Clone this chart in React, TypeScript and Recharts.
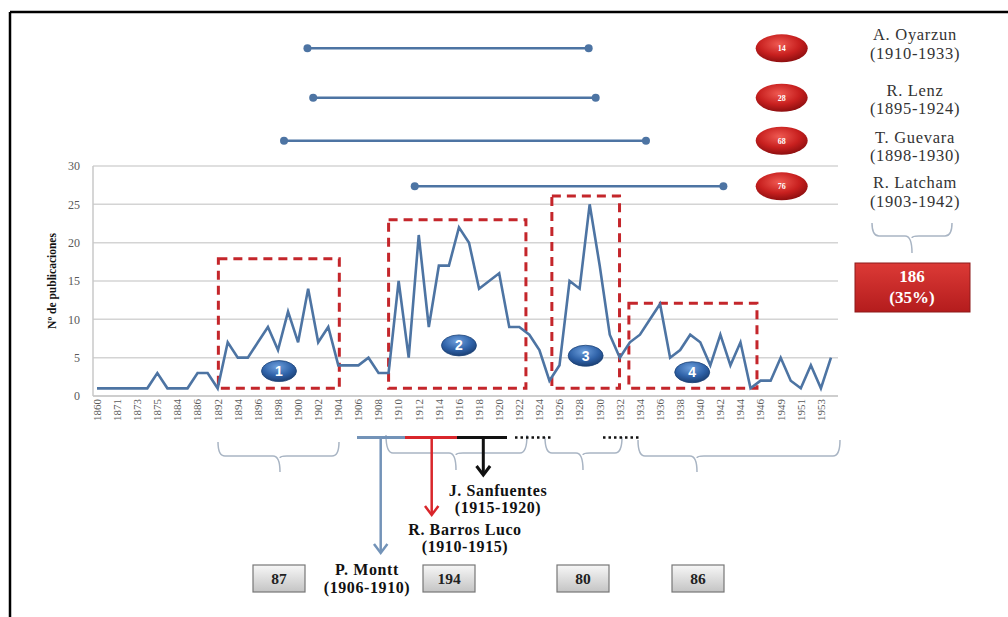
import React from 'react'
import {
    LineChart,
    Line,
    XAxis,
    YAxis,
    CartesianGrid,
    ReferenceArea,
    ReferenceLine,
    ReferenceDot,
} from 'recharts'

// categories: one per point on the axis; only every other one is labelled
const years = [
    '1860', '1870', '1871', '1872', '1873', '1874', '1875', '1880', '1884', '1885', '1886', '1890',
    '1892', '1893', '1894', '1895', '1896', '1897', '1898', '1899', '1900', '1901', '1902', '1903',
    '1904', '1905', '1906', '1907', '1908', '1909', '1910', '1911', '1912', '1913', '1914', '1915',
    '1916', '1917', '1918', '1919', '1920', '1921', '1922', '1923', '1924', '1925', '1926', '1927',
    '1928', '1929', '1930', '1931', '1932', '1933', '1934', '1935', '1936', '1937', '1938', '1939',
    '1940', '1941', '1942', '1943', '1944', '1945', '1946', '1948', '1949', '1950', '1951', '1952',
    '1953', '1954',
]

const publications = [
    1, 1, 1, 1, 1, 1, 3, 1, 1, 1, 3, 3,
    1, 7, 5, 5, 7, 9, 6, 11, 7, 14, 7, 9,
    4, 4, 4, 5, 3, 3, 15, 5, 21, 9, 17, 17,
    22, 20, 14, 15, 16, 9, 9, 8, 6, 2, 4, 15,
    14, 25, 17, 8, 5, 7, 8, 10, 12, 5, 6, 8,
    7, 4, 8, 4, 7, 1, 2, 2, 5, 2, 1, 4,
    1, 5,
]

const yTicks = [0, 5, 10, 15, 20, 25, 30]

// dashed period boxes (axis index / value units)
const periodFrom = [12.07, 29.0, 45.24, 52.9]
const periodTo = [24.1, 42.66, 51.97, 65.64]
const periodTop = [17.9, 23.0, 26.1, 12.1]
const badgeAt = [18.1, 36.0, 48.6, 59.2]
const badgeValue = [3.25, 6.6, 5.25, 3.1]

// authors shown above the plot
const authors = ['A. Oyarzun', 'R. Lenz', 'T. Guevara', 'R. Latcham']
const authorSpans = ['(1910-1933)', '(1895-1924)', '(1898-1930)', '(1903-1942)']
const authorCounts = [14, 28, 68, 76]
const authorStart = [20.93, 21.5, 18.6, 31.6]
const authorEnd = [48.9, 49.6, 54.6, 62.3]
const authorRow = [45.35, 38.9, 33.3, 27.35]

const periodTotals = ['87', '194', '80', '86']

const data = years.map((year, i) => ({ i, year, value: publications[i] }))
const xTicks = years.map((_, i) => i).filter(i => i % 2 === 0)

const SERIF = '"Liberation Serif", "Times New Roman", serif'
const LINE_BLUE = '#4d74a3'
const BOX_RED = '#c4262b'

const YearTick = ({ x, y, payload }: any) => (
    <text
        x={x}
        y={y}
        transform={`rotate(-90 ${x} ${y})`}
        textAnchor="end"
        dy="0.35em"
        fontSize={11}
        fontFamily={SERIF}
        fill="#595959"
    >
        {years[payload.value]}
    </text>
)

const Badge = ({ cx, cy, n }: any) => (
    <g>
        <ellipse cx={cx} cy={cy} rx={17.5} ry={10.5} fill="url(#badgeBlue)" stroke="#1d4479" strokeWidth={0.8} />
        <text x={cx} y={cy} dy="0.36em" textAnchor="middle" fontSize={14} fontWeight="bold" fontFamily="Arial, sans-serif" fill="#fff">
            {n}
        </text>
    </g>
)

const RedBall = ({ cx, cy, n }: any) => (
    <g>
        <ellipse cx={cx} cy={cy} rx={26} ry={14} fill="url(#redBall)" />
        <text x={cx} y={cy} dy="0.35em" textAnchor="middle" fontSize={8} fontWeight="bold" fontFamily={SERIF} fill="#fff">
            {n}
        </text>
    </g>
)

function brace(x1: number, x2: number, xm: number, top: number, mid: number, tip: number) {
    return `M${x1} ${top} Q${x1} ${mid} ${x1 + 7} ${mid} L${xm - 7} ${mid} Q${xm} ${mid} ${xm} ${tip}` +
        ` M${xm} ${mid + 2} Q${xm} ${mid} ${xm + 7} ${mid} L${x2 - 7} ${mid} Q${x2} ${mid} ${x2} ${top}`
}

const braces = [
    [218, 339, 280, 442, 456, 472],
    [386, 527, 456, 435, 453, 470],
    [545, 622, 583, 437, 453, 470],
    [638, 840, 697, 440, 456, 472],
]

const totalBoxes = [253, 423, 557, 672]

export default function App() {
    return (
        <div style={{ position: 'absolute', left: 0, top: 0, width: 1008, height: 617, background: '#fff' }}>
            <LineChart
                width={1008}
                height={617}
                data={data}
                margin={{ top: 166, right: 170, bottom: 181, left: 33 }}
            >
                <CartesianGrid vertical={false} stroke="#d4d4d4" strokeWidth={1.5} />
                <XAxis
                    dataKey="i"
                    type="number"
                    domain={[-0.4, 73.7]}
                    ticks={xTicks}
                    interval={0}
                    tick={<YearTick />}
                    tickLine={false}
                    tickSize={3}
                    tickMargin={0}
                    height={40}
                    axisLine={{ stroke: '#c8c8c8', strokeWidth: 1.5 }}
                />
                <YAxis
                    domain={[0, 30]}
                    ticks={yTicks}
                    width={60}
                    tickLine={false}
                    tickMargin={7}
                    axisLine={{ stroke: '#c8c8c8', strokeWidth: 1.5 }}
                    tick={{ fontSize: 12, fontFamily: SERIF, fill: '#595959' }}
                />
                {periodFrom.map((from, k) => (
                    <ReferenceArea
                        key={'box' + k}
                        x1={from}
                        x2={periodTo[k]}
                        y1={1}
                        y2={periodTop[k]}
                        fill="none"
                        fillOpacity={0}
                        stroke={BOX_RED}
                        strokeWidth={3}
                        strokeDasharray="9 6"
                        ifOverflow="visible"
                    />
                ))}
                <Line
                    type="linear"
                    dataKey="value"
                    stroke={LINE_BLUE}
                    strokeWidth={2.6}
                    dot={false}
                    isAnimationActive={false}
                />
                {badgeAt.map((x, k) => (
                    <ReferenceDot
                        key={'badge' + k}
                        x={x}
                        y={badgeValue[k]}
                        ifOverflow="visible"
                        shape={(p: any) => <Badge cx={p.cx} cy={p.cy} n={k + 1} />}
                    />
                ))}
                {authorRow.map((row, k) => (
                    <ReferenceLine
                        key={'span' + k}
                        segment={[{ x: authorStart[k], y: row }, { x: authorEnd[k], y: row }]}
                        stroke={LINE_BLUE}
                        strokeWidth={2.5}
                        ifOverflow="visible"
                    />
                ))}
                {authorRow.map((row, k) => (
                    <ReferenceDot key={'s' + k} x={authorStart[k]} y={row} r={4} fill={LINE_BLUE} stroke="none" ifOverflow="visible" />
                ))}
                {authorRow.map((row, k) => (
                    <ReferenceDot key={'e' + k} x={authorEnd[k]} y={row} r={4} fill={LINE_BLUE} stroke="none" ifOverflow="visible" />
                ))}
                {authorRow.map((row, k) => (
                    <ReferenceDot
                        key={'ball' + k}
                        x={68.1}
                        y={row}
                        ifOverflow="visible"
                        shape={(p: any) => <RedBall cx={p.cx} cy={p.cy} n={authorCounts[k]} />}
                    />
                ))}
            </LineChart>

            <svg width={1008} height={617} style={{ position: 'absolute', left: 0, top: 0, pointerEvents: 'none' }}>
                <defs>
                    <radialGradient id="redBall" cx="45%" cy="35%" r="65%">
                        <stop offset="0%" stopColor="#ef5a52" />
                        <stop offset="60%" stopColor="#c8201f" />
                        <stop offset="100%" stopColor="#8e0f10" />
                    </radialGradient>
                    <radialGradient id="badgeBlue" cx="45%" cy="30%" r="70%">
                        <stop offset="0%" stopColor="#6d9fdc" />
                        <stop offset="60%" stopColor="#2f62a8" />
                        <stop offset="100%" stopColor="#1b3f73" />
                    </radialGradient>
                    <linearGradient id="greyBox" x1="0" y1="0" x2="0" y2="1">
                        <stop offset="0%" stopColor="#f7f7f7" />
                        <stop offset="100%" stopColor="#c4c4c4" />
                    </linearGradient>
                    <linearGradient id="redBox" x1="0" y1="0" x2="0" y2="1">
                        <stop offset="0%" stopColor="#dc3a36" />
                        <stop offset="100%" stopColor="#b41c1d" />
                    </linearGradient>
                </defs>

                <line x1={10} y1={12} x2={1008} y2={12} stroke="#000" strokeWidth={2.5} />
                <line x1={10} y1={12} x2={10} y2={617} stroke="#000" strokeWidth={2.5} />

                <text
                    transform="translate(52 281) rotate(-90)"
                    textAnchor="middle"
                    dy="0.35em"
                    fontSize={11.5}
                    fontWeight="bold"
                    fontFamily={SERIF}
                    fill="#111"
                >
                    Nº de publicaciones
                </text>

                {braces.map((b, k) => (
                    <path key={k} d={brace(b[0], b[1], b[2], b[3], b[4], b[5])} fill="none" stroke="#a9b5c4" strokeWidth={1.5} />
                ))}
                <path d={brace(872, 952, 912, 223, 236, 253)} fill="none" stroke="#a9b5c4" strokeWidth={1.5} />

                {/* presidential terms */}
                <line x1={357} y1={437.5} x2={405} y2={437.5} stroke="#7393b8" strokeWidth={3} />
                <line x1={405} y1={437.5} x2={457} y2={437.5} stroke="#d9262b" strokeWidth={3} />
                <line x1={457} y1={437.5} x2={507} y2={437.5} stroke="#111" strokeWidth={3} />
                <line x1={515} y1={437.5} x2={553} y2={437.5} stroke="#111" strokeWidth={2.5} strokeDasharray="2.5 3" />
                <line x1={603} y1={437.5} x2={640} y2={437.5} stroke="#111" strokeWidth={2.5} strokeDasharray="2.5 3" />

                <line x1={380.7} y1={437} x2={380.7} y2={552} stroke="#7393b8" strokeWidth={2.5} />
                <path d="M374 544 L380.7 553 L387.4 544" fill="none" stroke="#7393b8" strokeWidth={2.5} />
                <line x1={431.7} y1={437} x2={431.7} y2={514} stroke="#d9262b" strokeWidth={2.5} />
                <path d="M425 506 L431.7 515 L438.4 506" fill="none" stroke="#d9262b" strokeWidth={2.5} />
                <line x1={483.3} y1={437} x2={483.3} y2={474} stroke="#111" strokeWidth={3} />
                <path d="M476.5 466 L483.3 475 L490.1 466" fill="none" stroke="#111" strokeWidth={3} />

                <g fontFamily={SERIF} fontWeight="bold" fontSize={16} letterSpacing={0.6} fill="#111" textAnchor="middle">
                    <text x={498} y={496}>J. Sanfuentes</text>
                    <text x={498} y={513}>(1915-1920)</text>
                    <text x={465} y={535}>R. Barros Luco</text>
                    <text x={465} y={552}>(1910-1915)</text>
                    <text x={367} y={575}>P. Montt</text>
                    <text x={367} y={593}>(1906-1910)</text>
                </g>

                {totalBoxes.map((x, k) => (
                    <g key={'tot' + k}>
                        <rect x={x} y={565} width={52} height={27} fill="url(#greyBox)" stroke="#777" strokeWidth={1.2} />
                        <text x={x + 26} y={584} textAnchor="middle" fontFamily={SERIF} fontWeight="bold" fontSize={15.5} fill="#222">
                            {periodTotals[k]}
                        </text>
                    </g>
                ))}

                <g fontFamily={SERIF} fontSize={16.5} letterSpacing={0.7} fill="#333" textAnchor="middle">
                    {authors.map((a, k) => (
                        <g key={a}>
                            <text x={915} y={[40, 96, 143, 188][k]}>{a}</text>
                            <text x={915} y={[59, 114, 161, 207][k]}>{authorSpans[k]}</text>
                        </g>
                    ))}
                </g>

                <rect x={855} y={263} width={115} height={49} fill="url(#redBox)" stroke="#8e1a1a" strokeWidth={1} />
                <g fontFamily={SERIF} fontWeight="bold" fontSize={17} fill="#fff" textAnchor="middle">
                    <text x={912} y={282}>186</text>
                    <text x={912} y={303}>(35%)</text>
                </g>
            </svg>
        </div>
    )
}
